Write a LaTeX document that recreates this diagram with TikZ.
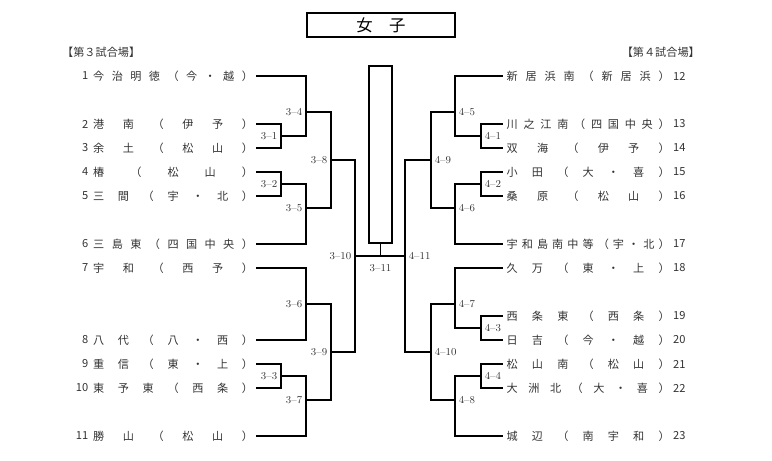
\documentclass[tikz,border=0pt]{standalone}
\usepackage{fontspec}
\newfontfamily\jpfont{Noto Sans CJK JP}

% spread the characters of a name over a fixed width
\def\spreadchars#1{\spreadfirst#1\relax}
\def\spreadfirst#1{#1\spreadrest}
\def\spreadrest#1{\ifx\relax#1\else\hfill#1\expandafter\spreadrest\fi}

\begin{document}
\begin{tikzpicture}[x=0.03cm, y=-0.03cm,
    bracket/.style={line width=0.9pt},
    teamname/.style={inner sep=0pt, text=black!80, font=\jpfont\fontsize{9.5}{11}\selectfont},
    game/.style={inner sep=3pt, text=black!80, font=\fontsize{9}{10}\selectfont}]

        \useasboundingbox (0,0) rectangle (772,461);

        % Title
        \node[draw, line width=1.8pt, minimum width=4.44cm, minimum height=0.72cm,
            font=\jpfont\fontsize{14}{16}\selectfont] (title) at (381,25) {女　子};

        % Venues
        \node[teamname, anchor=west] (venue3) at (62,52) {【第３試合場】};
        \node[teamname, anchor=east] (venue4) at (700,52) {【第４試合場】};

        % Teams, left
        \foreach \n/\y/\name in {1/76/今治明徳（今・越）, 2/124/港南（伊予）,
            3/148/余土（松山）, 4/172/椿（松山）, 5/196/三間（宇・北）,
            6/244/三島東（四国中央）, 7/268/宇和（西予）, 8/340/八代（八・西）,
            9/364/重信（東・上）, 10/388/東予東（西条）, 11/436/勝山（松山）}{
            \node[teamname, anchor=east] (num\n) at (88.5,\y) {\n};
            \node[teamname, anchor=west] (team\n) at (93,\y)
                {\makebox[4.79cm][s]{\expandafter\spreadchars\expandafter{\name}}};
            \coordinate (L\n) at (256,\y);
        }

        % Teams, right
        \foreach \n/\y/\name in {12/76/新居浜南（新居浜）, 13/124/川之江南（四国中央）,
            14/148/双海（伊予）, 15/172/小田（大・喜）, 16/196/桑原（松山）,
            17/244/宇和島南中等（宇・北）, 18/268/久万（東・上）, 19/316/西条東（西条）,
            20/340/日吉（今・越）, 21/364/松山南（松山）, 22/388/大洲北（大・喜）,
            23/436/城辺（南宇和）}{
            \node[teamname, anchor=west] (num\n) at (673,\y) {\n};
            \node[teamname, anchor=west] (team\n) at (506.4,\y)
                {\makebox[4.89cm][s]{\expandafter\spreadchars\expandafter{\name}}};
            \coordinate (R\n) at (503,\y);
        }

        % Games, left
        \coordinate (g31) at (281,136);
        \coordinate (g32) at (281,184);
        \coordinate (g33) at (281,376);
        \coordinate (g34) at (306,112);
        \coordinate (g35) at (306,208);
        \coordinate (g36) at (306,304);
        \coordinate (g37) at (306,400);
        \coordinate (g38) at (331,160);
        \coordinate (g39) at (331,352);
        \coordinate (g310) at (355,256);

        % Games, right
        \coordinate (g41) at (481,136);
        \coordinate (g42) at (481,184);
        \coordinate (g43) at (481,328);
        \coordinate (g44) at (481,376);
        \coordinate (g45) at (455,112);
        \coordinate (g46) at (455,208);
        \coordinate (g47) at (455,304);
        \coordinate (g48) at (455,400);
        \coordinate (g49) at (431,160);
        \coordinate (g410) at (431,352);
        \coordinate (g411) at (405,256);

        % Bracket, left
        \draw[bracket] (L2) -| (g31) |- (L3);
        \draw[bracket] (L4) -| (g32) |- (L5);
        \draw[bracket] (L9) -| (g33) |- (L10);
        \draw[bracket] (L1) -| (g34) |- (g31);
        \draw[bracket] (g32) -| (g35) |- (L6);
        \draw[bracket] (L7) -| (g36) |- (L8);
        \draw[bracket] (g33) -| (g37) |- (L11);
        \draw[bracket] (g34) -| (g38) |- (g35);
        \draw[bracket] (g36) -| (g39) |- (g37);
        \draw[bracket] (g38) -| (g310) |- (g39);

        % Bracket, right
        \draw[bracket] (R13) -| (g41) |- (R14);
        \draw[bracket] (R15) -| (g42) |- (R16);
        \draw[bracket] (R19) -| (g43) |- (R20);
        \draw[bracket] (R21) -| (g44) |- (R22);
        \draw[bracket] (R12) -| (g45) |- (g41);
        \draw[bracket] (g42) -| (g46) |- (R17);
        \draw[bracket] (R18) -| (g47) |- (g43);
        \draw[bracket] (g44) -| (g48) |- (R23);
        \draw[bracket] (g45) -| (g49) |- (g46);
        \draw[bracket] (g47) -| (g410) |- (g48);
        \draw[bracket] (g49) -| (g411) |- (g410);

        % Final
        \node[draw, line width=1.8pt, minimum width=0.69cm, minimum height=5.31cm,
            inner sep=0pt] (champ) at (380.5,154.5) {};
        \coordinate (final) at (380.5,256);
        \draw[bracket] (g310) -- (g411);
        \draw[bracket] (final) -- (champ.south);

        % Game labels
        \foreach \g in {1,...,10}
            \node[game, left] (lab3\g) at (g3\g) {3--\g};
        \foreach \g in {1,...,11}
            \node[game, right] (lab4\g) at (g4\g) {4--\g};
        \node[game, below, yshift=-4pt] (lab311) at (final) {3--11};

    \end{tikzpicture}
\end{document}
